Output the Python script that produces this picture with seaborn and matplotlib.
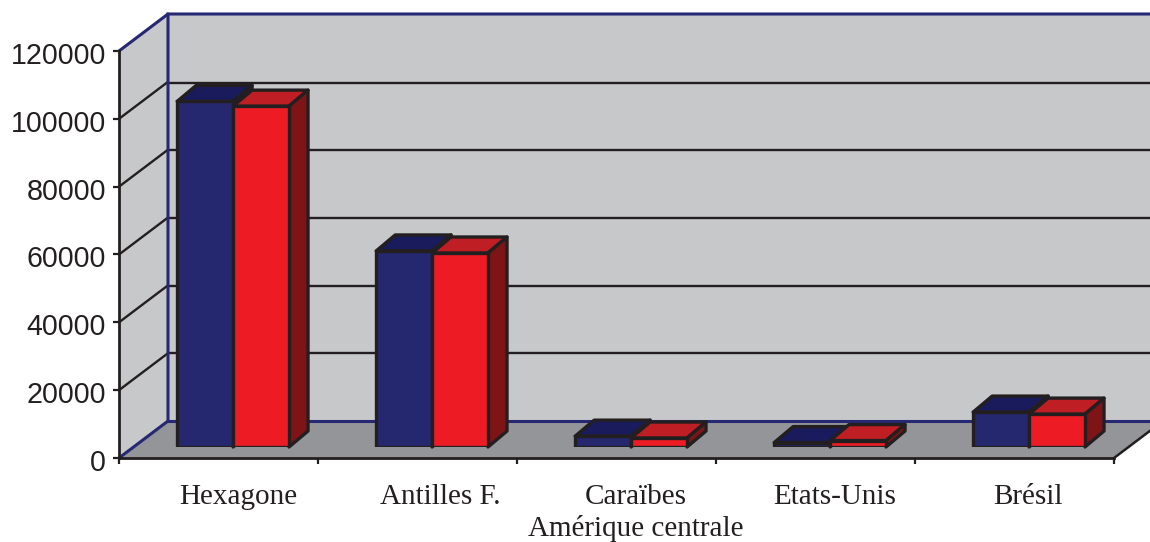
import matplotlib.pyplot as plt
import seaborn as sns
import pandas as pd
from matplotlib.patches import Polygon
from matplotlib.transforms import ScaledTranslation

categories = ['Hexagone', 'Antilles F.', 'Caraïbes\nAmérique centrale', 'Etats-Unis', 'Brésil']
series_names = ['Série 1', 'Série 2']
values_blue = [101900, 57800, 3200, 1300, 10300]
values_red = [100500, 57200, 2650, 1900, 9700]
y_ticks = [0, 20000, 40000, 60000, 80000, 100000, 120000]

W, H = 1150, 542
WALL = '#c7c8ca'
FLOOR = '#939598'
NAVY = '#262874'
INK = '#231f20'
FACES = {'Série 1': ('#25276f', '#1a1b5c', '#14154a'),
         'Série 2': ('#ed1c24', '#be1e24', '#7f1416')}
# les libelles du modele ne sont pas tout a fait reguliers
LABEL_SHIFT = [5, 8, 5, 5, -1]

sns.set_theme(style='white')
plt.rcParams['font.family'] = ['Liberation Sans', 'DejaVu Sans']

df = pd.DataFrame({
    'categorie': categories * 2,
    'serie': [series_names[0]] * 5 + [series_names[1]] * 5,
    'valeur': values_blue + values_red,
})


def axes_px(fig, left, right, top, bottom):
    # position en pixels de l'image, origine en haut a gauche
    return fig.add_axes([left / W, 1 - bottom / H, (right - left) / W, (bottom - top) / H])


def setup_scale(ax):
    ax.set_xlim(-0.5, 4.5)
    ax.set_ylim(0, 120000)


def nudge(label, fig, x_px, y_px):
    # petit decalage du texte, en pixels
    label.set_transform(label.get_transform() + ScaledTranslation(x_px / 100, y_px / 100, fig.dpi_scale_trans))


fig = plt.figure(figsize=(W / 100, H / 100), dpi=100, facecolor='white')

# 1. mur du fond
ax_back = axes_px(fig, 168, 1163, 15, 421)
setup_scale(ax_back)
ax_back.set_facecolor(WALL)
ax_back.set_xticks([])
ax_back.set_yticks(y_ticks[1:-1])
ax_back.set_yticklabels([])
ax_back.tick_params(left=False)
ax_back.grid(True, axis='y', color=INK, linewidth=1.7)
ax_back.grid(False, axis='x')
for side in ax_back.spines:
    ax_back.spines[side].set_visible(False)
ax_back.set_zorder(1)

# 2. plan avant : sol, mur gauche, axes
ax_front = axes_px(fig, 119, 1114, 51, 458)
setup_scale(ax_front)
ax_front.patch.set_alpha(0)
ax_front.set_zorder(2)
dx = 49 / 199
dy = 37 / 407 * 120000
ax_front.add_patch(Polygon([(-0.5, 0), (4.5, 0), (4.5 + dx, dy), (-0.5 + dx, dy)],
                           facecolor=FLOOR, edgecolor='none', clip_on=False, zorder=1))
ax_front.add_patch(Polygon([(-0.5, 0), (-0.5, 120000), (-0.5 + dx, 120000 + dy), (-0.5 + dx, dy)],
                           facecolor=WALL, edgecolor='none', clip_on=False, zorder=1))
for t in y_ticks[1:-1]:
    ax_front.plot([-0.5, -0.5 + dx], [t, t + dy], color=INK, lw=1.7, clip_on=False, zorder=2)
ax_front.plot([-0.5, -0.5 + dx, -0.5 + dx, 4.5 + dx], [0, dy, 120000 + dy, 120000 + dy],
              color=NAVY, lw=2.2, clip_on=False, zorder=2, solid_joinstyle='miter')
ax_front.plot([-0.5, -0.5 + dx], [120000, 120000 + dy], color=NAVY, lw=2.2, clip_on=False, zorder=2)
ax_front.plot([-0.5 + dx, 4.5 + dx], [dy, dy], color=NAVY, lw=2.2, clip_on=False, zorder=2)
ax_front.plot([4.5, 4.5 + dx], [0, dy], color=INK, lw=1.8, clip_on=False, zorder=2)
ax_front.set_yticks(y_ticks)
ax_front.set_yticklabels([str(t) for t in y_ticks], fontsize=20.6, color=INK)
ax_front.set_xticks([-0.5, 0.5, 1.5, 2.5, 3.5, 4.5])
ax_front.set_xticklabels([])
ax_front.tick_params(axis='both', length=4.5, width=1.6, color=INK, bottom=True, left=True, pad=5)
sns.despine(ax=ax_front, top=True, right=True)
for side in ['left', 'bottom']:
    ax_front.spines[side].set_color(INK)
    ax_front.spines[side].set_linewidth(2)
    ax_front.spines[side].set_zorder(3)
for label in ax_front.get_yticklabels():
    nudge(label, fig, 0, -2)

# 3. barres, decalees dans la profondeur du sol
ax_bars = axes_px(fig, 133.6, 1128.6, 40, 447)
ax_bars.patch.set_alpha(0)
ax_bars.set_zorder(3)
sns.barplot(data=df, x='categorie', y='valeur', hue='serie', order=categories,
            hue_order=series_names, palette=[FACES[s][0] for s in series_names],
            width=0.562, gap=0, saturation=1, edgecolor=INK, linewidth=2.4,
            legend=False, ax=ax_bars, zorder=5)
setup_scale(ax_bars)
ax_bars.set_xlabel('')
ax_bars.set_ylabel('')
ax_bars.set_yticks([])
for side in ax_bars.spines:
    ax_bars.spines[side].set_visible(False)
ax_bars.tick_params(axis='x', length=0, pad=27)
for label, shift in zip(ax_bars.get_xticklabels(), LABEL_SHIFT):
    label.set_fontfamily(['Liberation Serif', 'DejaVu Serif'])
    label.set_fontsize(21)
    label.set_color(INK)
    label.set_linespacing(1.2)
    nudge(label, fig, shift, 0)

# faces du dessus et de cote, a partir des barres dessinees
bar_dx = 19 / 199
bar_dy = 16 / 407 * 120000
for i, bar in enumerate(ax_bars.patches[:10]):
    name = series_names[i // 5]
    x0, w, h = bar.get_x(), bar.get_width(), bar.get_height()
    x1 = x0 + w
    z = 2 if name == series_names[0] else 3
    ax_bars.add_patch(Polygon([(x0, h), (x1, h), (x1 + bar_dx, h + bar_dy), (x0 + bar_dx, h + bar_dy)],
                              facecolor=FACES[name][1], edgecolor=INK, linewidth=2.4,
                              clip_on=False, zorder=z, joinstyle='round'))
    ax_bars.add_patch(Polygon([(x1, 0), (x1, h), (x1 + bar_dx, h + bar_dy), (x1 + bar_dx, bar_dy)],
                              facecolor=FACES[name][2], edgecolor=INK, linewidth=2.4,
                              clip_on=False, zorder=z, joinstyle='round'))

fig.savefig('out.png', dpi=100)
